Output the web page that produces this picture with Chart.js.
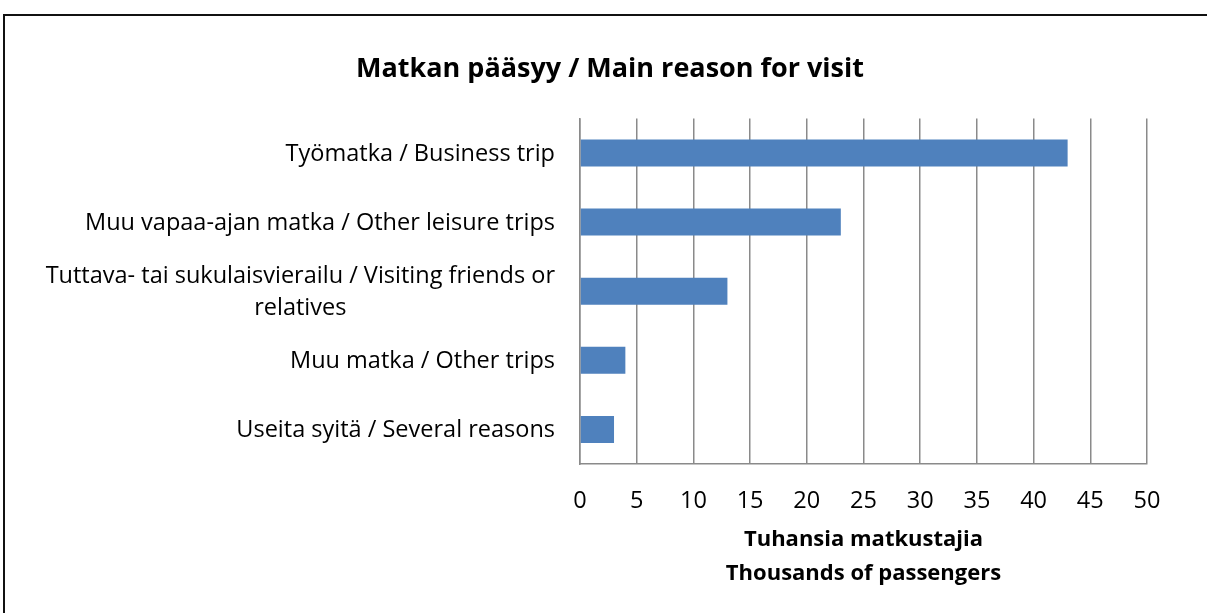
<!DOCTYPE html>
<html><head><meta charset="utf-8">
<script src="https://cdn.jsdelivr.net/npm/chart.js@4.4.0/dist/chart.umd.min.js"></script>
<style>
html,body{margin:0;padding:0;background:#fff;overflow:hidden}
#frame{position:absolute;left:3px;top:14px;width:1300px;height:700px;border:2px solid #111;box-sizing:border-box}
#wrap{position:absolute;left:0;top:0;width:1207px;height:613px}
</style></head><body>
<div id="frame"></div>
<div id="wrap"><canvas id="c" width="1207" height="613"></canvas></div>
<script>
const chartTitle = "Matkan pääsyy / Main reason for visit";
const categories = [
  "Työmatka / Business trip",
  "Muu vapaa-ajan matka / Other leisure trips",
  ["Tuttava- tai sukulaisvierailu / Visiting friends or", "relatives"],
  "Muu matka / Other trips",
  "Useita syitä / Several reasons"
];
const values = [43, 23, 13, 4, 3];
const xMin = 0, xMax = 50, xStep = 5;
const xAxisTitle = ["Tuhansia matkustajia", "Thousands of passengers"];

const FONT = "'Open Sans', sans-serif";
const labelFontSize = 23.5;
const labelLineH = 32;

const yLabelPlugin = {
  id: 'yLabels',
  afterDraw(chart) {
    const s = chart.scales.y;
    const ctx = chart.ctx;
    ctx.save();
    ctx.font = labelFontSize + "px " + FONT;
    ctx.fillStyle = "#000";
    ctx.textBaseline = "middle";
    ctx.textAlign = "center";
    const xRight = s.right - 25;
    categories.forEach((lab, i) => {
      const lines = Array.isArray(lab) ? lab : [lab];
      const maxW = Math.max(...lines.map(l => ctx.measureText(l).width));
      const yc = s.getPixelForValue(i) + 1;
      lines.forEach((ln, j) => {
        const cy = yc + (j - (lines.length - 1) / 2) * labelLineH;
        ctx.fillText(ln, xRight - maxW / 2, cy);
      });
    });
    ctx.restore();
  }
};

new Chart(document.getElementById('c'), {
  type: 'bar',
  data: {
    labels: categories,
    datasets: [{
      data: values,
      backgroundColor: '#4F81BD',
      borderWidth: 0,
      barPercentage: 0.39,
      categoryPercentage: 1.0
    }]
  },
  options: {
    indexAxis: 'y',
    responsive: false,
    animation: false,
    layout: { padding: { left: 73, right: 60, top: 0, bottom: 0 } },
    plugins: {
      legend: { display: false },
      tooltip: { enabled: false },
      title: {
        display: true,
        text: chartTitle,
        color: '#000',
        font: { family: FONT, size: 27, weight: 'bold', lineHeight: 1.2 },
        padding: { top: 53, bottom: 33 }
      }
    },
    scales: {
      x: {
        min: xMin, max: xMax,
        ticks: { stepSize: xStep, color: '#000', padding: 23, font: { family: FONT, size: 23.5 } },
        grid: { color: '#8a8a8a', lineWidth: 1.5, drawTicks: false },
        border: { display: true, color: '#8a8a8a', width: 1.5 },
        title: {
          display: true, text: xAxisTitle, color: '#000',
          font: { family: FONT, size: 22, weight: 'bold', lineHeight: 34/22 },
          padding: { top: 0, bottom: 22 }
        },
        afterFit(scale) { scale.height = 149; }
      },
      y: {
        ticks: { display: false },
        grid: { display: false, drawTicks: false },
        border: { display: true, color: '#8a8a8a', width: 1.5 },
        afterFit(scale) { scale.width = 507; }
      }
    }
  },
  plugins: [yLabelPlugin]
});
</script>
</body></html>
